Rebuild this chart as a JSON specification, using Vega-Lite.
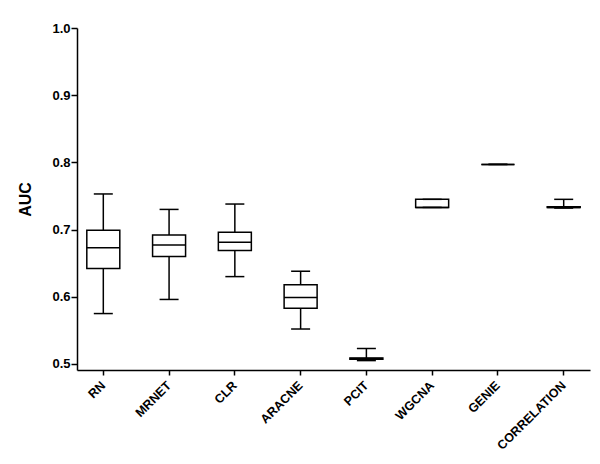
{
  "$schema": "https://vega.github.io/schema/vega-lite/v6.json",
  "width": 513,
  "height": 342,
  "autosize": "none",
  "padding": {"left": 77, "top": 28, "right": 10, "bottom": 94},
  "background": "white",
  "config": {
    "view": {"stroke": null},
    "font": "Liberation Sans",
    "axis": {
      "domainColor": "black",
      "domainWidth": 1.5,
      "tickColor": "black",
      "tickWidth": 1.5,
      "labelColor": "black",
      "labelFont": "Liberation Sans",
      "labelFontWeight": "bold",
      "titleFont": "Liberation Sans",
      "titleFontWeight": "bold",
      "titleColor": "black",
      "grid": false
    }
  },
  "data": {
    "values": [
      {"method": "RN", "min": 0.575, "q1": 0.642, "median": 0.673, "q3": 0.699, "max": 0.753},
      {"method": "MRNET", "min": 0.596, "q1": 0.660, "median": 0.677, "q3": 0.692, "max": 0.730},
      {"method": "CLR", "min": 0.630, "q1": 0.669, "median": 0.681, "q3": 0.696, "max": 0.738},
      {"method": "ARACNE", "min": 0.552, "q1": 0.583, "median": 0.599, "q3": 0.618, "max": 0.638},
      {"method": "PCIT", "min": 0.505, "q1": 0.507, "median": 0.508, "q3": 0.509, "max": 0.523},
      {"method": "WGCNA", "min": 0.733, "q1": 0.733, "median": 0.733, "q3": 0.745, "max": 0.745},
      {"method": "GENIE", "min": 0.797, "q1": 0.797, "median": 0.797, "q3": 0.797, "max": 0.797},
      {"method": "CORRELATION", "min": 0.732, "q1": 0.733, "median": 0.733, "q3": 0.734, "max": 0.745}
    ]
  },
  "encoding": {
    "x": {
      "field": "method",
      "type": "nominal",
      "sort": null,
      "scale": {"paddingOuter": 0, "paddingInner": 0.2},
      "axis": {
        "title": null,
        "labelAngle": -45,
        "labelAlign": "right",
        "labelBaseline": "middle",
        "labelFontSize": 12.5,
        "tickSize": 5,
        "labelPadding": 8
      }
    }
  },
  "layer": [
    {
      "mark": {"type": "rule", "color": "black", "strokeWidth": 1.5},
      "encoding": {
        "y": {
          "field": "min",
          "type": "quantitative",
          "scale": {"domain": [0.491, 1.0], "nice": false, "zero": false},
          "axis": {
            "title": "AUC",
            "titleFontSize": 16,
            "titlePadding": 18,
            "values": [0.5, 0.6, 0.7, 0.8, 0.9, 1.0],
            "format": ".1f",
            "labelFontSize": 13,
            "tickSize": 6,
            "labelPadding": 1
          }
        },
        "y2": {"field": "max"}
      }
    },
    {
      "mark": {"type": "bar", "size": 33, "fill": "white", "stroke": "black", "strokeWidth": 1.5},
      "encoding": {
        "y": {"field": "q1", "type": "quantitative"},
        "y2": {"field": "q3"}
      }
    },
    {
      "mark": {"type": "tick", "size": 33, "thickness": 1.5, "color": "black", "opacity": 1},
      "encoding": {"y": {"field": "median", "type": "quantitative"}}
    },
    {
      "mark": {"type": "tick", "size": 19, "thickness": 1.5, "color": "black", "opacity": 1},
      "encoding": {"y": {"field": "min", "type": "quantitative"}}
    },
    {
      "mark": {"type": "tick", "size": 19, "thickness": 1.5, "color": "black", "opacity": 1},
      "encoding": {"y": {"field": "max", "type": "quantitative"}}
    }
  ]
}
